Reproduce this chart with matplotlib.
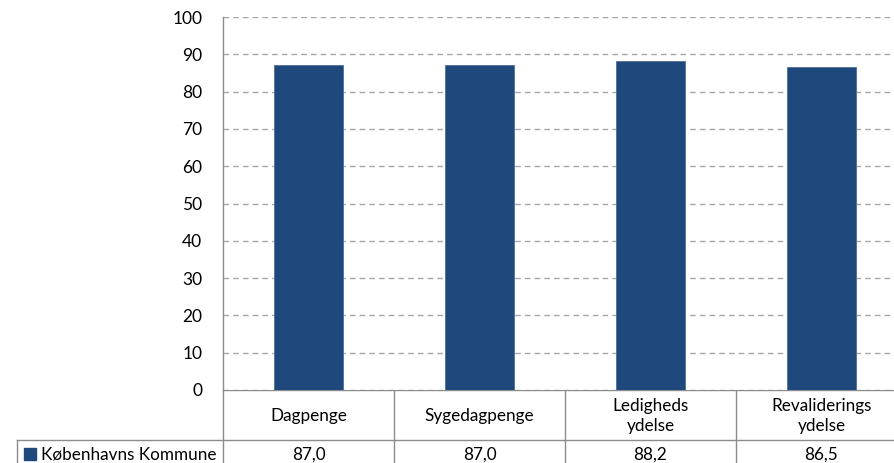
import matplotlib
matplotlib.use("Agg")
import matplotlib.pyplot as plt
from matplotlib.patches import Rectangle

categories = ["Dagpenge", "Sygedagpenge", "Ledigheds\nydelse", "Revaliderings\nydelse"]
values = [87.0, 87.0, 88.2, 86.5]
value_labels = ["87,0", "87,0", "88,2", "86,5"]
series_name = "Københavns Kommune"
yticks = list(range(0, 101, 10))

plt.rcParams['font.family'] = ['Lato', 'DejaVu Sans']
bar_color = "#1F497D"
line_color = "#8C8C8C"

W, H = 895, 463
fig = plt.figure(figsize=(W / 100, H / 100), dpi=100)
ax_l, ax_b, ax_w, ax_h = 223, 390, 684, 373
ax = fig.add_axes([ax_l / W, (H - ax_b) / H, ax_w / W, ax_h / H])

x = list(range(len(categories)))
ax.bar(x, values, width=0.4, color=bar_color, edgecolor="#4F6E96", linewidth=0.6, zorder=3)
ax.set_xlim(-0.5, len(categories) - 0.5)
ax.set_ylim(0, 100)
ax.set_yticks(yticks)
ax.set_yticklabels([str(t) for t in yticks], fontsize=12.5)
ax.tick_params(axis='y', length=0, pad=15)
ax.set_xticks([])
ax.grid(axis='y', linestyle=(0, (4, 3)), color="#A6A6A6", linewidth=1.0, zorder=0)
for s in ['top', 'right', 'bottom']:
    ax.spines[s].set_visible(False)
ax.spines['left'].set_color(line_color)
ax.spines['left'].set_linewidth(1.0)

# table below the axes (figure pixel coordinates via a full overlay)
ov = fig.add_axes([0, 0, 1, 1], zorder=-1)
ov.set_xlim(0, W)
ov.set_ylim(H, 0)
ov.axis('off')

cell_w = ax_w / len(categories)
header_bottom = 440
lw = 1.0
ov.plot([ax_l, W + 20], [ax_b, ax_b], color=line_color, lw=lw)
ov.plot([17, W + 20], [header_bottom, header_bottom], color=line_color, lw=lw)
ov.plot([17, 17], [header_bottom, H + 5], color=line_color, lw=lw)
for i in range(len(categories) + 1):
    xx = ax_l + i * cell_w
    ov.plot([xx, xx], [ax_b, H + 5], color=line_color, lw=lw)

for i, (c, v) in enumerate(zip(categories, value_labels)):
    cx = ax_l + (i + 0.5) * cell_w
    ov.text(cx, (ax_b + header_bottom) / 2 + 1, c, ha='center', va='center', fontsize=12.3, linespacing=1.35)
    ov.text(cx, 455, v, ha='center', va='center', fontsize=12.3)

ov.add_patch(Rectangle((24, 448), 12, 12, color=bar_color))
ov.text(41, 455, series_name, ha='left', va='center', fontsize=12.3)

fig.savefig("out.png", dpi=100)
